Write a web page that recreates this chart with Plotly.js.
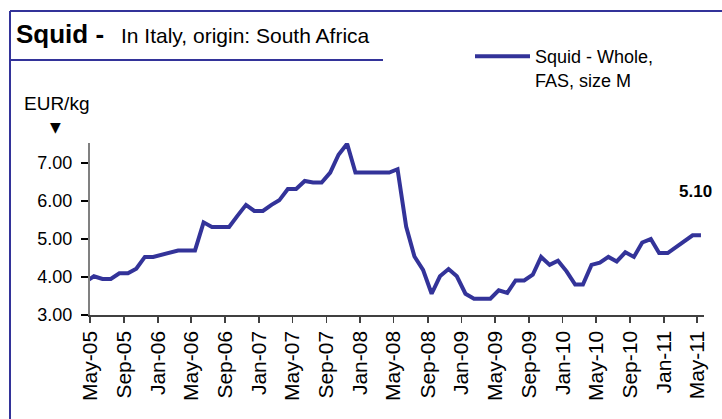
<!DOCTYPE html>
<html>
<head>
<meta charset="utf-8">
<script src="https://cdn.plot.ly/plotly-3.0.1.min.js"></script>
<style>
  html, body { margin: 0; padding: 0; background: #ffffff; }
  #chart { width: 722px; height: 419px; }
</style>
</head>
<body>
<div id="chart"></div>
<script>
// ---- Data (monthly, mid-month observations) ----
const months = [
  '2005-04-15','2005-05-15','2005-06-15','2005-07-15','2005-08-15','2005-09-15','2005-10-15','2005-11-15','2005-12-15',
  '2006-01-15','2006-02-15','2006-03-15','2006-04-15','2006-05-15','2006-06-15','2006-07-15','2006-08-15','2006-09-15','2006-10-15','2006-11-15','2006-12-15',
  '2007-01-15','2007-02-15','2007-03-15','2007-04-15','2007-05-15','2007-06-15','2007-07-15','2007-08-15','2007-09-15','2007-10-15','2007-11-15','2007-12-15',
  '2008-01-15','2008-02-15','2008-03-15','2008-04-15','2008-05-15','2008-06-15','2008-07-15','2008-08-15','2008-09-15','2008-10-15','2008-11-15','2008-12-15',
  '2009-01-15','2009-02-15','2009-03-15','2009-04-15','2009-05-15','2009-06-15','2009-07-15','2009-08-15','2009-09-15','2009-10-15','2009-11-15','2009-12-15',
  '2010-01-15','2010-02-15','2010-03-15','2010-04-15','2010-05-15','2010-06-15','2010-07-15','2010-08-15','2010-09-15','2010-10-15','2010-11-15','2010-12-15',
  '2011-01-15','2011-02-15','2011-03-15','2011-04-15','2011-05-15'
];
const squidWhole = [
  3.88, 4.02, 3.95, 3.95, 4.10, 4.10, 4.22, 4.53, 4.53,
  4.58, 4.64, 4.70, 4.70, 4.70, 5.44, 5.32, 5.32, 5.32, 5.61, 5.90, 5.74,
  5.74, 5.90, 6.02, 6.32, 6.32, 6.53, 6.49, 6.49, 6.75, 7.22, 7.51, 6.75,
  6.75, 6.75, 6.75, 6.75, 6.84, 5.33, 4.54, 4.19, 3.56, 4.02, 4.21, 4.02,
  3.56, 3.43, 3.43, 3.43, 3.65, 3.58, 3.91, 3.91, 4.06, 4.53, 4.32, 4.43,
  4.15, 3.80, 3.80, 4.32, 4.38, 4.53, 4.41, 4.65, 4.53, 4.91, 5.00, 4.63,
  4.63, 4.79, 4.91, 5.10, 5.10
];
const seriesName = 'Squid - Whole,<br>FAS, size M';
const titleBold = 'Squid -';
const titleRest = 'In Italy, origin: South Africa';
const unitLabel = 'EUR/kg';
const lastLabel = '5.10';

// ---- Layout geometry (pixels) ----
const W = 722, H = 419;
const M = { l: 90, r: 18, t: 143, b: 104 };
const PW = W - M.l - M.r, PH = H - M.t - M.b;
const px = X => (X - M.l) / PW;
const py = Y => (H - M.b - Y) / PH;

const NAVY = '#333399';
const FONT = 'Liberation Sans, Arial, sans-serif';

const trace = {
  type: 'scatter',
  mode: 'lines',
  x: months,
  y: squidWhole,
  name: seriesName,
  line: { color: NAVY, width: 4 },
  hoverinfo: 'x+y'
};

const layout = {
  width: W, height: H,
  margin: M,
  paper_bgcolor: '#ffffff',
  plot_bgcolor: '#ffffff',
  font: { family: FONT, color: '#000000', size: 16 },
  showlegend: true,
  legend: {
    x: px(470), y: py(38), xanchor: 'left', yanchor: 'top',
    bgcolor: 'rgba(0,0,0,0)', borderwidth: 0,
    font: { family: FONT, size: 18, color: '#000000' },
    valign: 'top', tracegroupgap: 0, itemwidth: 55
  },
  xaxis: {
    type: 'date',
    range: ['2005-05-01', '2011-05-26'],
    tick0: '2005-05-01',
    dtick: 'M4',
    tickformat: '%b-%y',
    tickangle: -90,
    ticks: 'outside', ticklen: 6, tickcolor: '#404040', tickwidth: 1.5,
    showline: true, linecolor: '#404040', linewidth: 1.5,
    showgrid: false, zeroline: false,
    tickfont: { family: FONT, size: 21, color: '#000000' }
  },
  yaxis: {
    range: [3, 7.53],
    tick0: 3, dtick: 1,
    tickformat: '.2f',
    ticks: 'outside', ticklen: 7, tickcolor: '#000000', tickwidth: 1.5,
    ticklabelstandoff: 5,
    showline: true, linecolor: '#808080', linewidth: 2,
    showgrid: false, zeroline: false,
    tickfont: { family: FONT, size: 18, color: '#000000' }
  },
  shapes: [
    // outer frame: top and left
    { type: 'line', xref: 'paper', yref: 'paper', x0: px(10), x1: px(722), y0: py(11), y1: py(11), line: { color: NAVY, width: 2 } },
    { type: 'line', xref: 'paper', yref: 'paper', x0: px(10), x1: px(10), y0: py(11), y1: py(419), line: { color: NAVY, width: 2 } },
    // title underline
    { type: 'line', xref: 'paper', yref: 'paper', x0: px(10), x1: px(383), y0: py(60), y1: py(60), line: { color: NAVY, width: 2 } }
  ],
  annotations: [
    { xref: 'paper', yref: 'paper', x: px(14), y: py(34), xanchor: 'left', yanchor: 'middle', showarrow: false,
      text: '<b>' + titleBold + '</b>', font: { family: FONT, size: 26, color: '#000000' } },
    { xref: 'paper', yref: 'paper', x: px(119), y: py(35), xanchor: 'left', yanchor: 'middle', showarrow: false,
      text: titleRest, font: { family: FONT, size: 21, color: '#000000' } },
    { xref: 'paper', yref: 'paper', x: px(22), y: py(103), xanchor: 'left', yanchor: 'middle', showarrow: false,
      text: unitLabel, font: { family: FONT, size: 19, color: '#000000' } },
    { xref: 'paper', yref: 'paper', x: px(55), y: py(127), xanchor: 'center', yanchor: 'middle', showarrow: false,
      text: '▼', font: { family: 'DejaVu Sans, sans-serif', size: 14, color: '#000000' } },
    { xref: 'x', yref: 'y', x: months[months.length - 1], y: squidWhole[squidWhole.length - 1],
      xanchor: 'center', yanchor: 'middle', xshift: -5, yshift: 44, showarrow: false,
      text: '<b>' + lastLabel + '</b>', font: { family: FONT, size: 17, color: '#000000' } }
  ]
};

Plotly.newPlot('chart', [trace], layout, { displayModeBar: false, staticPlot: true });
</script>
</body>
</html>
